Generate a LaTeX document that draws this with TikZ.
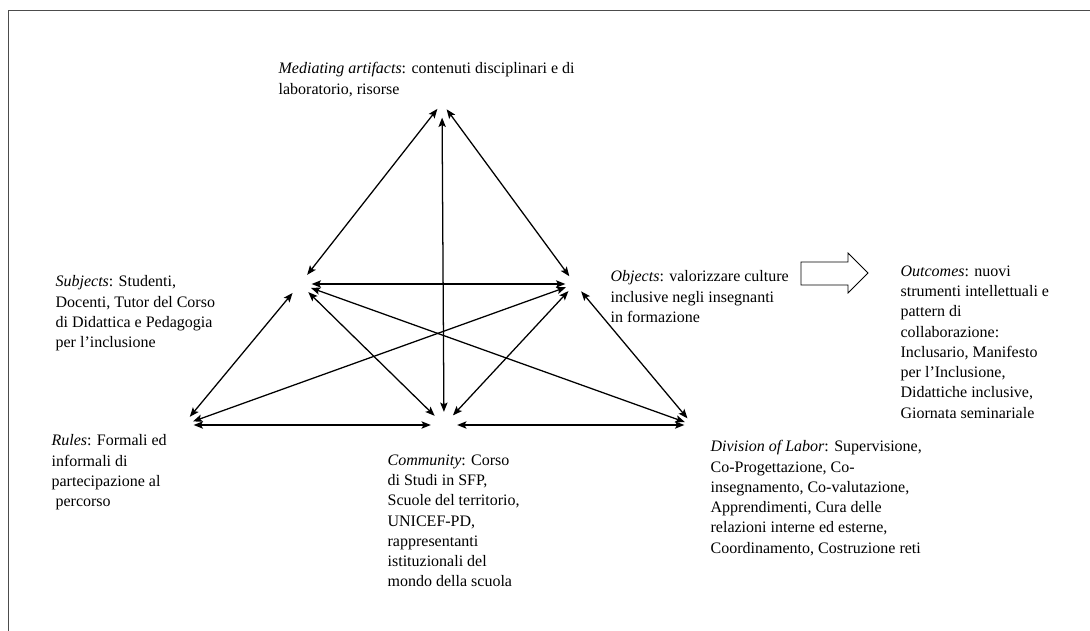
\documentclass[tikz,border=0pt]{standalone}
\usepackage{fontspec}
\setmainfont{Liberation Serif}
\usetikzlibrary{arrows.meta}

\begin{document}
\begin{tikzpicture}[x=0.75pt,y=-0.75pt,<->,>={Stealth[length=7pt,width=5.5pt,inset=1.5pt]},line width=0.95pt,
  corner node/.style={circle,inner sep=0pt,minimum size=#1},
  text node/.style={anchor=north west,inner sep=0pt,align=left,font=\fontsize{12}{15.2}\selectfont}]

  \useasboundingbox (0,0) rectangle (1090,631);
  \draw[-,gray!60!black,semithick] (8,631) -- (8,10) -- (1090,10);

  \node[rectangle,inner sep=0pt,minimum width=6pt,minimum height=21pt] (art) at (442,103) {};
  \node[corner node=16.5pt] (sub) at (300,284) {};
  \node[corner node=13.5pt] (obj) at (575,284) {};
  \node[corner node=15pt] (rul) at (183,425) {};
  \node[corner node=18.75pt] (com) at (444,425) {};
  \node[corner node=12pt] (div) at (693,425) {};

  \node[text node] (art text) at (278,62) {\textit{Mediating artifacts}: contenuti disciplinari e di\\laboratorio, risorse};
  \node[text node] (sub text) at (55,275) {\textit{Subjects}: Studenti,\\Docenti, Tutor del Corso\\di Didattica e Pedagogia\\per l'inclusione};
  \node[text node] (obj text) at (610,270) {\textit{Objects}: valorizzare culture\\inclusive negli insegnanti\\in formazione};
  \node[text node] (out text) at (900,265) {\textit{Outcomes}: nuovi\\strumenti intellettuali e\\pattern di\\collaborazione:\\Inclusario, Manifesto\\per l'Inclusione,\\Didattiche inclusive,\\Giornata seminariale};
  \node[text node] (rul text) at (51,434) {\textit{Rules}: Formali ed\\informali di\\partecipazione al\\\hspace{3pt}percorso};
  \node[text node] (com text) at (387,454) {\textit{Community}: Corso\\di Studi in SFP,\\Scuole del territorio,\\UNICEF-PD,\\rappresentanti\\istituzionali del\\mondo della scuola};
  \node[text node] (div text) at (710,440) {\textit{Division of Labor}: Supervisione,\\Co-Progettazione, Co-\\insegnamento, Co-valutazione,\\Apprendimenti, Cura delle\\relazioni interne ed esterne,\\Coordinamento, Costruzione reti};

  % block arrow towards the outcomes
  \draw[-,semithick] (801,262) -- (848,262) -- (848,253) -- (868,273) -- (848,293) -- (848,285) -- (801,285) -- cycle;

  \path
    (art) edge (sub)
    (art) edge (obj)
    (art) edge (com)
    (sub) edge (obj)
    (sub) edge (rul)
    (sub) edge (com)
    (sub) edge (div)
    (obj) edge (rul)
    (obj) edge (com)
    (obj) edge (div)
    (rul) edge (com)
    (com) edge (div)
    ;
\end{tikzpicture}
\end{document}
